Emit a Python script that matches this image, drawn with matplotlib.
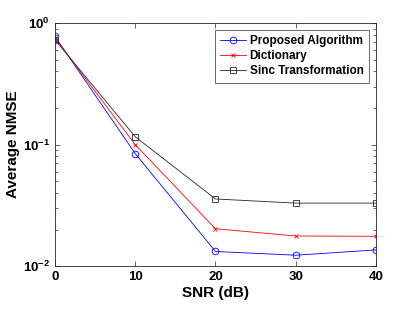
import numpy as np
import matplotlib
matplotlib.use('Agg')
import matplotlib.pyplot as plt

snr = [0, 10, 20, 30, 40]
proposed = [0.776, 0.0843, 0.0132, 0.0123, 0.0136]
dictionary = [0.752, 0.100, 0.0203, 0.0177, 0.0176]
sinc = [0.729, 0.116, 0.0357, 0.0330, 0.0330]
labels = ['Proposed Algorithm', 'Dictionary', 'Sinc Transformation']

plt.rcParams['font.family'] = ['Liberation Sans', 'DejaVu Sans']
plt.rcParams['font.weight'] = 'bold'

fig = plt.figure(figsize=(4.15, 3.12), dpi=100)
ax = fig.add_axes([0.1325, 0.147, 0.7735, 0.779])

ax.plot(snr, proposed, color='blue', lw=0.6, marker='o', ms=4.8, mfc='none', mew=0.6, label=labels[0])
ax.plot(snr, dictionary, color='red', lw=0.6, marker='x', ms=3.2, mew=0.6, label=labels[1])
ax.plot(snr, sinc, color='#262626', lw=0.6, marker='s', ms=3.8, mfc='none', mew=0.6, label=labels[2])

ax.set_yscale('log')
ax.set_xlim(0, 40)
ax.set_ylim(1e-2, 1)
ax.set_xticks([0, 10, 20, 30, 40])
ax.tick_params(which='both', direction='in', top=True, right=True, colors='#262626',
               labelcolor='black', labelsize=9.5, width=0.5)
ax.tick_params(which='major', length=3.5)
ax.tick_params(which='minor', length=2)
for s in ax.spines.values():
    s.set_linewidth(0.6)
    s.set_color('#262626')

ax.set_xlabel('SNR (dB)', fontsize=11, fontweight='bold', labelpad=2)
ax.set_ylabel('Average NMSE', fontsize=11, fontweight='bold', labelpad=2)

leg = ax.legend(loc='upper right', fontsize=8.5, frameon=True, fancybox=False,
                edgecolor='#262626', borderpad=0.45, labelspacing=0.25,
                handlelength=2.2, handletextpad=0.3, borderaxespad=0.6)
leg.get_frame().set_linewidth(0.6)

fig.savefig('out.png', dpi=100)
